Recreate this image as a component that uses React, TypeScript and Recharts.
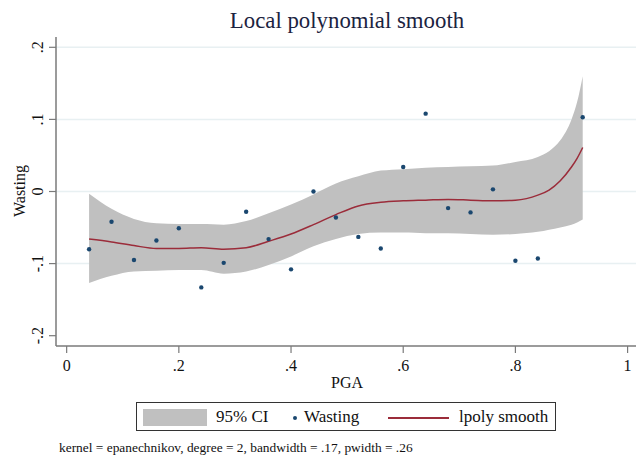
import { Area, CartesianGrid, ComposedChart, Line, Scatter, XAxis, YAxis } from "recharts"

// observed points
const pga = [0.04, 0.08, 0.12, 0.16, 0.2, 0.24, 0.28, 0.32, 0.36, 0.4, 0.44, 0.48, 0.52, 0.56, 0.6, 0.64, 0.68, 0.72, 0.76, 0.8, 0.84, 0.92]
const wasting = [-0.08, -0.042, -0.095, -0.068, -0.051, -0.133, -0.099, -0.028, -0.066, -0.108, 0.0, -0.036, -0.063, -0.079, 0.034, 0.108, -0.023, -0.029, 0.003, -0.096, -0.093, 0.103]

// lpoly fit and 95% CI
const gridX = [0.04, 0.08, 0.12, 0.16, 0.2, 0.24, 0.28, 0.32, 0.36, 0.4, 0.44, 0.48, 0.52, 0.56, 0.6, 0.64, 0.68, 0.72, 0.76, 0.8, 0.84, 0.86, 0.88, 0.9, 0.91, 0.92]
const fit = [-0.066, -0.07, -0.075, -0.079, -0.079, -0.078, -0.08, -0.078, -0.069, -0.059, -0.046, -0.032, -0.02, -0.015, -0.013, -0.012, -0.011, -0.012, -0.013, -0.012, -0.005, 0.002, 0.015, 0.034, 0.046, 0.061]
const ciLow = [-0.127, -0.117, -0.111, -0.11, -0.109, -0.109, -0.114, -0.111, -0.102, -0.09, -0.076, -0.066, -0.059, -0.057, -0.057, -0.058, -0.058, -0.059, -0.06, -0.059, -0.056, -0.053, -0.05, -0.046, -0.043, -0.039]
const ciHigh = [-0.003, -0.024, -0.038, -0.044, -0.045, -0.045, -0.046, -0.041, -0.03, -0.018, -0.004, 0.011, 0.021, 0.029, 0.031, 0.033, 0.034, 0.035, 0.036, 0.041, 0.048, 0.056, 0.071, 0.1, 0.124, 0.16]

const xTicks = [0, 0.2, 0.4, 0.6, 0.8, 1]
const xTickLabels = ["0", ".2", ".4", ".6", ".8", "1"]
const yTicks = [-0.2, -0.1, 0, 0.1, 0.2]
const yTickLabels = ["-.2", "-.1", "0", ".1", ".2"]
const gridValues = [-0.1, 0, 0.1, 0.2]

const serif = "'Liberation Serif', 'Times New Roman', serif"
const axisColor = "#7a7a7a"
const navy = "#1a476f"
const maroon = "#9b2c3a"
const ciGray = "#c0c0c0"

const YTick = ({ x, y, payload }: any) => {
  const i = yTicks.indexOf(payload.value)
  return (
    <text x={x} y={y} transform={`rotate(-90 ${x} ${y})`} textAnchor="middle" fontSize={16} fontFamily={serif} fill="#111">
      {yTickLabels[i]}
    </text>
  )
}

const XTick = ({ x, y, payload }: any) => {
  const i = xTicks.indexOf(payload.value)
  return (
    <text x={x} y={y} dy={11} textAnchor="middle" fontSize={16} fontFamily={serif} fill="#111">
      {xTickLabels[i]}
    </text>
  )
}

const Dot = ({ cx, cy }: any) => <circle cx={cx} cy={cy} r={2.2} fill={navy} />

export default function App() {
  const points = pga.map((x, i) => ({ x, y: wasting[i] }))
  const smooth = gridX.map((x, i) => ({ x, fit: fit[i], ci: [ciLow[i], ciHigh[i]] }))

  return (
    <div style={{ position: "absolute", left: 0, top: 0, width: 636, height: 459, background: "#fff", fontFamily: serif }}>
      <ComposedChart width={636} height={459} margin={{ top: 37, right: 0, bottom: 83, left: 0 }}>
        <CartesianGrid vertical={false} horizontalValues={gridValues} stroke="#e8f0f2" strokeWidth={1.5} />
        <XAxis
          type="number"
          dataKey="x"
          domain={[-0.019, 1.015]}
          ticks={xTicks}
          height={30}
          tickSize={7}
          tickMargin={7}
          tick={<XTick />}
          axisLine={{ stroke: axisColor, strokeWidth: 1.5 }}
          tickLine={{ stroke: axisColor, strokeWidth: 1.2 }}
          allowDataOverflow
        />
        <YAxis
          type="number"
          domain={[-0.2143, 0.2143]}
          ticks={yTicks}
          width={56}
          tickSize={7}
          tickMargin={6}
          tick={<YTick />}
          axisLine={{ stroke: axisColor, strokeWidth: 1.5 }}
          tickLine={{ stroke: axisColor, strokeWidth: 1.2 }}
          allowDataOverflow
        />
        <Area data={smooth} dataKey="ci" type="monotone" fill={ciGray} fillOpacity={1} stroke="none" isAnimationActive={false} />
        <Scatter data={points} dataKey="y" shape={<Dot />} isAnimationActive={false} />
        <Line data={smooth} dataKey="fit" type="monotone" stroke={maroon} strokeWidth={1.5} dot={false} isAnimationActive={false} />
      </ComposedChart>

      <div style={{ position: "absolute", left: 0, width: 636, top: 7, textAlign: "center", fontSize: 22.8, color: "#1b2340", lineHeight: "27px" }}>
        <span style={{ position: "relative", left: 29 }}>Local polynomial smooth</span>
      </div>
      <div style={{ position: "absolute", left: 20, top: 191, transform: "translate(-50%, -50%) rotate(-90deg)", fontSize: 16, color: "#111", whiteSpace: "nowrap" }}>
        Wasting
      </div>
      <div style={{ position: "absolute", left: 347, top: 383, transform: "translate(-50%, -50%)", fontSize: 16, color: "#111" }}>PGA</div>

      <div style={{ position: "absolute", left: 136, top: 402, width: 420, height: 29, border: "1px solid #333", boxSizing: "border-box" }} />
      <div style={{ position: "absolute", left: 143, top: 409, width: 64, height: 17, background: ciGray }} />
      <div style={{ position: "absolute", left: 216, top: 406, fontSize: 17, lineHeight: "22px", color: "#111" }}>95% CI</div>
      <div style={{ position: "absolute", left: 293, top: 416, width: 4, height: 4, borderRadius: 2, background: navy }} />
      <div style={{ position: "absolute", left: 304, top: 406, fontSize: 17, lineHeight: "22px", color: "#111" }}>Wasting</div>
      <div style={{ position: "absolute", left: 388, top: 417, width: 61, height: 1.5, background: maroon }} />
      <div style={{ position: "absolute", left: 459, top: 406, fontSize: 17, lineHeight: "22px", color: "#111" }}>lpoly smooth</div>

      <div style={{ position: "absolute", left: 59, top: 440, fontSize: 13.4, lineHeight: "16px", color: "#111", whiteSpace: "nowrap" }}>
        kernel = epanechnikov, degree = 2, bandwidth = .17, pwidth = .26
      </div>
    </div>
  )
}
